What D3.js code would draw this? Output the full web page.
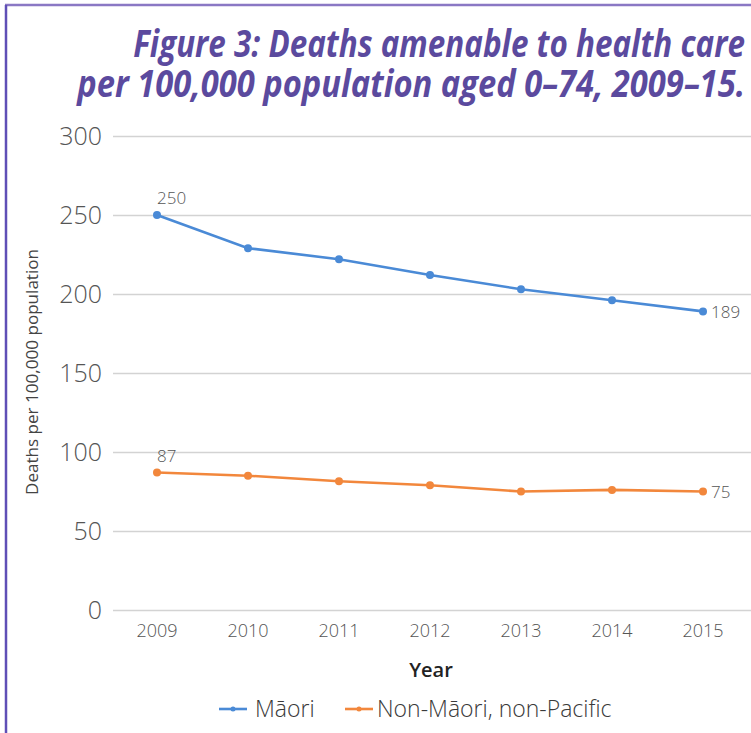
<!DOCTYPE html>
<html>
<head>
    <script src="https://cdnjs.cloudflare.com/ajax/libs/d3/7.8.5/d3.min.js"></script>
    <style>
        body { margin: 0; background: #fff; }
        svg { display: block; font-family: "Open Sans", "Noto Sans", sans-serif; }
        .grid line { stroke: #d3d3d3; stroke-width: 1.5px; }
        .grid .domain { display: none; }
        .ytick text { fill: #555; font-size: 25px; font-weight: 300; }
        .xtick text { fill: #555; font-size: 18px; font-weight: 300; }
    </style>
</head>
<body>
    <div id="chart"></div>
    <script>
        const width = 751, height = 733;

        const years = ["2009", "2010", "2011", "2012", "2013", "2014", "2015"];
        const maori = [250, 229, 222, 212, 203, 196, 189];
        const nonMaori = [87, 85, 81.5, 79, 75, 76, 75];
        const yTicks = [0, 50, 100, 150, 200, 250, 300];
        const seriesNames = ["Māori", "Non-Māori, non-Pacific"];
        const colors = ["#4a8ad6", "#f2873c"];
        const titleLines = ["Figure 3: Deaths amenable to health care",
                            "per 100,000 population aged 0–74, 2009–15."];

        const svg = d3.select("#chart").append("svg")
            .attr("width", width).attr("height", height);

        // frame
        svg.append("line").attr("x1", 5).attr("x2", width).attr("y1", 5).attr("y2", 5)
            .attr("stroke", "#8a78c4").attr("stroke-width", 2.5);
        svg.append("line").attr("x1", 6).attr("x2", 6).attr("y1", 5).attr("y2", height)
            .attr("stroke", "#5f4fb6").attr("stroke-width", 2.5);

        // title: each line squeezed horizontally to the reference's width
        const titleWidths = [612, 668];
        titleLines.forEach((t, i) => {
            const el = svg.append("text")
                .attr("fill", "#5b4a9e")
                .attr("font-weight", 700)
                .attr("font-style", "italic")
                .attr("font-size", 37)
                .attr("text-anchor", "end")
                .text(t);
            const w = el.node().getComputedTextLength();
            const sx = titleWidths[i] / w;
            el.attr("transform", `translate(745,${57 + i * 40}) scale(${sx},1)`);
        });

        const x = d3.scalePoint().domain(years).range([157, 703]);
        const y = d3.scaleLinear().domain([0, 300]).range([610, 136]);

        // gridlines
        svg.append("g").attr("class", "grid")
            .attr("transform", "translate(113,0)")
            .call(d3.axisRight(y).tickValues(yTicks).tickSize(width - 113).tickFormat(""));

        // y tick labels
        svg.append("g").attr("class", "ytick")
            .selectAll("text").data(yTicks).join("text")
            .attr("x", 102).attr("y", d => y(d)).attr("dy", "0.36em")
            .attr("text-anchor", "end")
            .text(d => d);

        // x tick labels
        svg.append("g").attr("class", "xtick")
            .selectAll("text").data(years).join("text")
            .attr("x", d => x(d)).attr("y", 637)
            .attr("text-anchor", "middle")
            .text(d => d);

        // axis titles
        svg.append("text")
            .attr("transform", "translate(38,372) rotate(-90)")
            .attr("text-anchor", "middle")
            .attr("font-size", 16).attr("fill", "#444")
            .attr("textLength", 246).attr("lengthAdjust", "spacingAndGlyphs")
            .text("Deaths per 100,000 population");
        svg.append("text")
            .attr("x", 431).attr("y", 677)
            .attr("text-anchor", "middle")
            .attr("font-size", 20).attr("font-weight", 600).attr("fill", "#222")
            .text("Year");

        // lines
        const series = [maori, nonMaori];
        const line = d3.line().x((d, i) => x(years[i])).y(d => y(d));

        series.forEach((vals, s) => {
            svg.append("path")
                .datum(vals)
                .attr("fill", "none")
                .attr("stroke", colors[s])
                .attr("stroke-width", 2.6)
                .attr("d", line);
            svg.append("g").selectAll("circle").data(vals).join("circle")
                .attr("cx", (d, i) => x(years[i]))
                .attr("cy", d => y(d))
                .attr("r", 4)
                .attr("fill", colors[s]);

            // first value label above, last value label to the right
            svg.append("text")
                .attr("x", x(years[0])).attr("y", y(vals[0]) - 11)
                .attr("font-size", 17).attr("font-weight", 300).attr("fill", "#555")
                .text(Math.round(vals[0]));
            svg.append("text")
                .attr("x", x(years[years.length - 1]) + 8)
                .attr("y", y(vals[vals.length - 1])).attr("dy", "0.36em")
                .attr("font-size", 17).attr("font-weight", 300).attr("fill", "#555")
                .text(Math.round(vals[vals.length - 1]));
        });

        // legend
        const legendX = [219, 345];
        const legend = svg.append("g").selectAll("g").data(seriesNames).join("g")
            .attr("transform", (d, i) => `translate(${legendX[i]},709)`);
        legend.append("line")
            .attr("x1", 0).attr("x2", 28)
            .attr("stroke", (d, i) => colors[i]).attr("stroke-width", 2.6);
        legend.append("circle")
            .attr("cx", 14).attr("r", 2.5)
            .attr("fill", (d, i) => colors[i]);
        legend.append("text")
            .attr("x", (d, i) => i === 0 ? 36 : 32)
            .attr("dy", "0.36em")
            .attr("font-size", 23).attr("font-weight", 300).attr("fill", "#3a3a3a")
            .text(d => d);
    </script>
</body>
</html>
